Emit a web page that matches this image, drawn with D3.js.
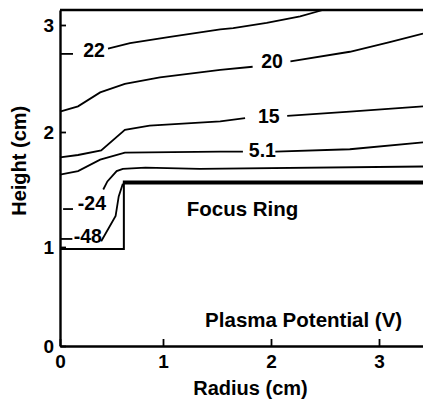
<!DOCTYPE html>
<html>
<head>
<meta charset="utf-8">
<script src="https://cdn.jsdelivr.net/npm/d3@7"></script>
<style>
  body { margin: 0; background: #fff; }
  svg { display: block; }
  text { font-family: "Liberation Sans", Arial, sans-serif; font-weight: bold; fill: #000; }
</style>
</head>
<body>
<svg width="423" height="400"></svg>
<script>
// tick values (cm)
var rTicks = [0, 1, 2, 3];
var hTicks = [0, 1, 2, 3];

// contour lines [radius, height], split into pieces where the label sits
var c22 = [
  [[0, 2.73], [0.126, 2.73]],
  [[0.466, 2.78], [0.68, 2.83], [1.065, 2.89], [1.53, 2.96], [1.65, 2.97], [1.96, 3.02], [2.27, 3.08], [2.48, 3.14]]
];
var c20 = [
  [[0, 2.19], [0.175, 2.24], [0.39, 2.37], [0.63, 2.45], [0.97, 2.51], [1.53, 2.58], [1.83, 2.61]],
  [[2.18, 2.66], [2.73, 2.75], [3.10, 2.84], [3.41, 2.92]]
];
var c15 = [
  [[0, 1.78], [0.175, 1.80], [0.40, 1.84], [0.63, 2.02], [0.87, 2.06], [1.53, 2.10], [1.76, 2.13]],
  [[2.15, 2.15], [2.73, 2.19], [3.41, 2.24]]
];
var c51 = [
  [[0, 1.63], [0.175, 1.66], [0.39, 1.76], [0.63, 1.82], [1.53, 1.83], [1.74, 1.83]],
  [[2.04, 1.83], [2.73, 1.85], [3.41, 1.91]]
];
var cm24 = [
  [[0.03, 1.33], [0.126, 1.33]],
  [[0.42, 1.50], [0.46, 1.57], [0.55, 1.66], [0.61, 1.68], [0.83, 1.69], [1.34, 1.68], [3.41, 1.70]]
];
var cm48 = [
  [[0, 1.07], [0.12, 1.07]],
  [[0.40, 1.05], [0.54, 1.27], [0.57, 1.44], [0.61, 1.55]]
];
var contours = [c22, c20, c15, c51, cm24, cm48];

var contourLabels = ["22", "20", "15", "5.1", "-24", "-48"];
var labelR = [0.33, 2.01, 1.98, 1.92, 0.31, 0.27];
var labelH = [2.77, 2.66, 2.15, 1.84, 1.38, 1.10];

// wafer edge and focus ring outline
var ringSide = [[0, 0.98], [0.62, 0.98], [0.62, 1.56]];
var ringTop = [[0.61, 1.56], [3.41, 1.56]];

var notes = [
  {text: "Focus Ring", r: 1.22, h: 1.27},
  {text: "Plasma Potential (V)", r: 1.39, h: 0.19}
];

var svg = d3.select("svg");

// the scanned axes are not quite even, so map each tick to its spot
var x = d3.scaleLinear().domain([0, 1, 2, 3, 3.41]).range([60, 163, 271, 379, 423]);
var y = d3.scaleLinear().domain([0, 1, 2, 3, 3.14]).range([346, 247, 132, 25, 10]);

var line = d3.line()
    .x(function(d) { return x(d[0]); })
    .y(function(d) { return y(d[1]); });

// contours
contours.forEach(function(pieces) {
  svg.append("g")
    .selectAll("path")
    .data(pieces)
    .enter().append("path")
      .attr("d", line)
      .attr("fill", "none")
      .attr("stroke", "#000")
      .attr("stroke-width", 1.8);
});

svg.selectAll("text.clabel")
  .data(contourLabels)
  .enter().append("text")
    .attr("class", "clabel")
    .attr("x", function(d, i) { return x(labelR[i]); })
    .attr("y", function(d, i) { return y(labelH[i]); })
    .attr("dy", "0.36em")
    .attr("text-anchor", "middle")
    .attr("font-size", 19.5)
    .text(function(d) { return d; });

// focus ring
svg.append("path")
    .attr("d", line(ringSide))
    .attr("fill", "none")
    .attr("stroke", "#000")
    .attr("stroke-width", 2);
svg.append("path")
    .attr("d", line(ringTop))
    .attr("fill", "none")
    .attr("stroke", "#000")
    .attr("stroke-width", 4);

svg.selectAll("text.note")
  .data(notes)
  .enter().append("text")
    .attr("class", "note")
    .attr("x", function(d) { return x(d.r); })
    .attr("y", function(d) { return y(d.h); })
    .attr("font-size", 20.5)
    .text(function(d) { return d.text; });

// axes
var xAxis = svg.append("g")
    .attr("transform", "translate(0," + y(0) + ")")
    .call(d3.axisBottom(x).tickValues(rTicks).tickFormat(d3.format("d"))
      .tickSizeInner(-7).tickSizeOuter(0).tickPadding(9));
var yAxis = svg.append("g")
    .attr("transform", "translate(" + x(0) + ",0)")
    .call(d3.axisLeft(y).tickValues(hTicks).tickFormat(d3.format("d"))
      .tickSizeInner(-6).tickSizeOuter(0).tickPadding(6));

[xAxis, yAxis].forEach(function(g) {
  g.attr("font-family", null).attr("font-size", null);
  g.select(".domain").attr("stroke-width", 2.4);
  g.selectAll(".tick line").attr("stroke-width", 1.8);
  g.selectAll(".tick text").attr("font-size", 19);
});

// top border
svg.append("line")
    .attr("x1", x(0)).attr("x2", x(3.41))
    .attr("y1", y(3.14)).attr("y2", y(3.14))
    .attr("stroke", "#000")
    .attr("stroke-width", 2.4);

// axis titles
svg.append("text")
    .attr("x", x(1.81))
    .attr("y", 395)
    .attr("text-anchor", "middle")
    .attr("font-size", 20)
    .text("Radius (cm)");
svg.append("text")
    .attr("transform", "translate(26," + y(1.75) + ") rotate(-90)")
    .attr("text-anchor", "middle")
    .attr("font-size", 20)
    .text("Height (cm)");
</script>
</body>
</html>
